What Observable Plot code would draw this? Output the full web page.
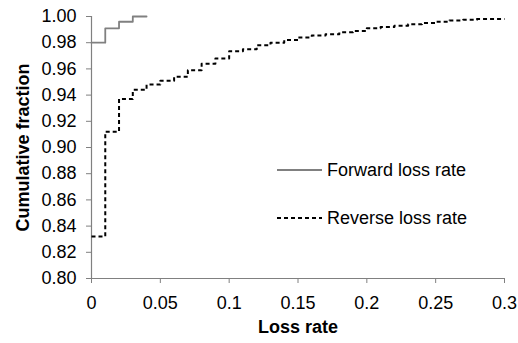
<!DOCTYPE html>
<html>
<head>
<meta charset="utf-8">
<script src="https://cdn.jsdelivr.net/npm/d3@7"></script>
<script src="https://cdn.jsdelivr.net/npm/@observablehq/plot@0.6"></script>
<style>
  html, body { margin: 0; padding: 0; background: #fff; }
  #wrap { position: relative; width: 518px; height: 343px; font-family: "Liberation Sans", Arial, sans-serif; }
  #wrap svg { font-family: "Liberation Sans", Arial, sans-serif !important; }
  #wrap svg text { font-size: 18px !important; }
  .legend { position: absolute; left: 276px; font-size: 18px; color: #000; display: flex; align-items: center; white-space: nowrap; }
  .legend svg { margin-right: 4px; }
</style>
</head>
<body>
<div id="wrap"></div>
<script>
// Forward loss rate CDF
const fwdRate = [0, 0.01, 0.02, 0.03, 0.04];
const fwdFrac = [0.980, 0.991, 0.996, 1.000, 1.000];

// Reverse loss rate CDF
const revRate = [0, 0.01, 0.02, 0.03, 0.04, 0.05, 0.06, 0.07, 0.08, 0.09, 0.10,
                 0.11, 0.12, 0.13, 0.14, 0.15, 0.16, 0.17, 0.18, 0.19, 0.20,
                 0.21, 0.22, 0.23, 0.24, 0.25, 0.26, 0.27, 0.28, 0.29, 0.30];
const revFrac = [0.832, 0.912, 0.937, 0.944, 0.948, 0.951, 0.954, 0.959, 0.964, 0.968, 0.9735,
                 0.975, 0.978, 0.980, 0.982, 0.984, 0.9855, 0.9865, 0.988, 0.989, 0.991,
                 0.992, 0.993, 0.994, 0.995, 0.996, 0.997, 0.9975, 0.998, 0.998, 0.998];

const seriesNames = ["Forward loss rate", "Reverse loss rate"];
const xTicks = [0, 0.05, 0.1, 0.15, 0.2, 0.25, 0.3];
const yTicks = [0.80, 0.82, 0.84, 0.86, 0.88, 0.90, 0.92, 0.94, 0.96, 0.98, 1.00];
const xTitle = "Loss rate";
const yTitle = "Cumulative fraction";

const fwd = fwdRate.map((x, i) => ({x, y: fwdFrac[i]}));
const rev = revRate.map((x, i) => ({x, y: revFrac[i]}));

const axisGray = "#808080";

const chart = Plot.plot({
  width: 518,
  height: 343,
  marginLeft: 91,
  marginRight: 14,
  marginTop: 16,
  marginBottom: 65,
  style: {fontSize: "18px", fontFamily: "Liberation Sans, Arial, sans-serif", background: "#fff", color: "#000"},
  x: {domain: [0, 0.3]},
  y: {domain: [0.8, 1.0]},
  marks: [
    Plot.axisY({ticks: yTicks, tickFormat: d => d.toFixed(2), tickSize: 5, tickPadding: 10, stroke: axisGray, fill: "#000", label: null, fontSize: 18}),
    Plot.axisX({ticks: xTicks, tickFormat: d => String(d), tickSize: 5, tickPadding: 13, stroke: axisGray, fill: "#000", label: null, fontSize: 18}),
    Plot.ruleX([0], {stroke: axisGray, strokeWidth: 1.2}),
    Plot.ruleY([0.8], {stroke: axisGray, strokeWidth: 1.2}),
    Plot.line(rev, {x: "x", y: "y", curve: "step-after", stroke: "#000", strokeWidth: 2, strokeDasharray: "4,3", strokeLinecap: "butt"}),
    Plot.line(fwd, {x: "x", y: "y", curve: "step-after", stroke: axisGray, strokeWidth: 1.8}),
    Plot.text([xTitle], {frameAnchor: "bottom", dy: 54, fontWeight: "bold", fill: "#000"}),
    Plot.text([yTitle], {frameAnchor: "left", textAnchor: "middle", dx: -68, rotate: -90, fontWeight: "bold", fill: "#000"})
  ]
});

const wrap = document.getElementById("wrap");
wrap.appendChild(chart);

const legendTops = [170, 218];
const legendStyles = [
  {stroke: axisGray, width: 1.8, dash: null},
  {stroke: "#000", width: 2, dash: "4,3"}
];
seriesNames.forEach((name, i) => {
  const item = document.createElement("div");
  item.className = "legend";
  item.style.top = (legendTops[i] - 10) + "px";
  item.style.height = "20px";
  const s = legendStyles[i];
  item.innerHTML = `<svg width="47" height="20"><line x1="1" y1="10" x2="46" y2="10" stroke="${s.stroke}" stroke-width="${s.width}" ${s.dash ? `stroke-dasharray="${s.dash}"` : ""}/></svg><span>${name}</span>`;
  wrap.appendChild(item);
});
</script>
</body>
</html>
